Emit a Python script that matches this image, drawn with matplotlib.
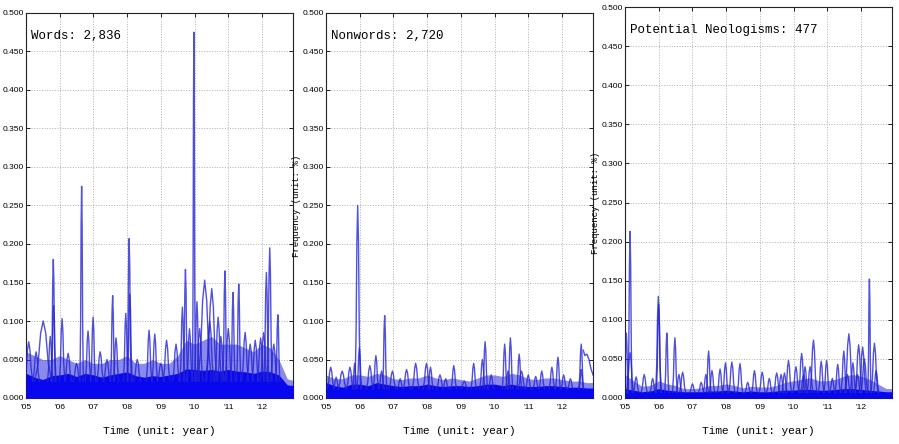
import numpy as np
import matplotlib
matplotlib.use("Agg")
import matplotlib.pyplot as plt
from matplotlib import font_manager

# ---------------- data ----------------
titles = ["Words: 2,836", "Nonwords: 2,720", "Potential Neologisms: 477"]
xtick_years = [2005, 2006, 2007, 2008, 2009, 2010, 2011, 2012]
xtick_labels = ["'05", "'06", "'07", "'08", "'09", "'10", "'11", "'12"]
ytick_values = [0.0, 0.05, 0.1, 0.15, 0.2, 0.25, 0.3, 0.35, 0.4, 0.45, 0.5]

# quarterly time grid for the dense bottom band of thousands of series
env_time = np.linspace(2005.0, 2013.0, 33)

words_band = [0.032, 0.027, 0.024, 0.029, 0.030, 0.032, 0.028, 0.032, 0.030, 0.027, 0.030,
              0.032, 0.034, 0.029, 0.027, 0.029, 0.028, 0.030, 0.032, 0.038, 0.037, 0.036,
              0.037, 0.035, 0.037, 0.035, 0.034, 0.032, 0.035, 0.034, 0.030, 0.017, 0.016]
words_mid = [0.060, 0.055, 0.050, 0.050, 0.055, 0.050, 0.045, 0.050, 0.045, 0.045, 0.050,
             0.050, 0.055, 0.045, 0.045, 0.050, 0.045, 0.045, 0.055, 0.075, 0.070, 0.075,
             0.080, 0.070, 0.070, 0.070, 0.065, 0.060, 0.070, 0.065, 0.050, 0.025, 0.022]

nonwords_band = [0.020, 0.016, 0.014, 0.018, 0.018, 0.016, 0.020, 0.018, 0.016, 0.015, 0.016,
                 0.016, 0.018, 0.016, 0.015, 0.016, 0.016, 0.015, 0.016, 0.018, 0.018, 0.016,
                 0.018, 0.016, 0.015, 0.015, 0.016, 0.016, 0.015, 0.014, 0.014, 0.013, 0.013]
nonwords_mid = [0.030, 0.025, 0.025, 0.030, 0.030, 0.028, 0.032, 0.030, 0.025, 0.024, 0.026,
                0.026, 0.030, 0.026, 0.024, 0.026, 0.024, 0.022, 0.026, 0.030, 0.030, 0.028,
                0.032, 0.030, 0.025, 0.024, 0.026, 0.026, 0.024, 0.022, 0.022, 0.020, 0.020]

neo_band = [0.012, 0.010, 0.008, 0.009, 0.012, 0.010, 0.009, 0.008, 0.008, 0.008, 0.009,
            0.009, 0.010, 0.009, 0.008, 0.009, 0.008, 0.008, 0.009, 0.010, 0.010, 0.011,
            0.011, 0.010, 0.010, 0.011, 0.012, 0.012, 0.011, 0.010, 0.009, 0.008, 0.008]
neo_mid = [0.030, 0.022, 0.015, 0.016, 0.022, 0.018, 0.016, 0.012, 0.012, 0.013, 0.016,
           0.016, 0.018, 0.016, 0.013, 0.015, 0.014, 0.014, 0.016, 0.020, 0.022, 0.024,
           0.026, 0.022, 0.022, 0.024, 0.028, 0.030, 0.028, 0.024, 0.018, 0.012, 0.012]

# individual peaks: time (year), peak frequency (%), half width (years)
words_peak_t = [2005.08, 2005.30, 2005.51, 2005.72, 2005.81, 2005.82, 2006.07, 2006.25, 2006.50,
                2006.65, 2006.84, 2006.99, 2007.20, 2007.40, 2007.57, 2007.67, 2007.96, 2008.06,
                2008.08, 2008.30, 2008.65, 2008.82, 2009.00, 2009.17, 2009.45, 2009.64, 2009.73,
                2009.85, 2009.98, 2010.07, 2010.15, 2010.30, 2010.45, 2010.51, 2010.70, 2010.78,
                2010.90, 2011.00, 2011.14, 2011.31, 2011.50, 2011.65, 2011.80, 2011.96, 2012.05,
                2012.13, 2012.23, 2012.35, 2012.47]
words_peak_h = [0.073, 0.060, 0.100, 0.080, 0.180, 0.120, 0.103, 0.058, 0.045,
                0.275, 0.087, 0.105, 0.060, 0.050, 0.133, 0.078, 0.110, 0.207,
                0.135, 0.050, 0.088, 0.083, 0.045, 0.075, 0.070, 0.118, 0.167,
                0.090, 0.475, 0.125, 0.090, 0.153, 0.100, 0.142, 0.105, 0.080,
                0.165, 0.090, 0.137, 0.148, 0.085, 0.070, 0.075, 0.078, 0.085,
                0.163, 0.195, 0.070, 0.108]
words_peak_w = [0.12, 0.10, 0.25, 0.08, 0.06, 0.07, 0.08, 0.10, 0.10,
                0.05, 0.08, 0.07, 0.10, 0.10, 0.06, 0.08, 0.07, 0.06,
                0.07, 0.10, 0.08, 0.08, 0.10, 0.10, 0.10, 0.07, 0.06,
                0.08, 0.04, 0.07, 0.10, 0.20, 0.12, 0.16, 0.10, 0.10,
                0.06, 0.10, 0.06, 0.06, 0.10, 0.10, 0.10, 0.10, 0.10,
                0.07, 0.07, 0.10, 0.06]

nonwords_peak_t = [2005.14, 2005.30, 2005.48, 2005.71, 2005.85, 2005.94, 2005.99, 2006.30, 2006.48,
                   2006.65, 2006.74, 2006.97, 2007.20, 2007.39, 2007.66, 2007.98, 2008.10, 2008.38,
                   2008.55, 2008.79, 2009.10, 2009.38, 2009.64, 2009.72, 2009.90, 2010.30, 2010.40,
                   2010.47, 2010.73, 2010.80, 2011.00, 2011.22, 2011.40, 2011.70, 2011.88, 2012.05,
                   2012.25, 2012.57, 2012.57]
nonwords_peak_h = [0.040, 0.027, 0.035, 0.040, 0.045, 0.250, 0.065, 0.042, 0.055,
                   0.035, 0.107, 0.035, 0.025, 0.037, 0.045, 0.045, 0.040, 0.030,
                   0.025, 0.042, 0.022, 0.045, 0.050, 0.073, 0.030, 0.070, 0.035,
                   0.078, 0.057, 0.035, 0.030, 0.028, 0.035, 0.040, 0.053, 0.030,
                   0.025, 0.037, 0.070]
nonwords_peak_w = [0.10, 0.08, 0.12, 0.10, 0.06, 0.08, 0.07, 0.10, 0.08,
                   0.08, 0.06, 0.10, 0.08, 0.10, 0.10, 0.10, 0.08, 0.10,
                   0.08, 0.08, 0.10, 0.08, 0.08, 0.07, 0.08, 0.07, 0.08,
                   0.07, 0.07, 0.10, 0.08, 0.08, 0.08, 0.08, 0.07, 0.08,
                   0.08, 0.06, 0.07]
# the slowly decaying series at the right end of the nonwords panel
nonwords_tail_t = [2012.63, 2012.68, 2012.74, 2012.80, 2012.86, 2012.92]
nonwords_tail_v = [0.062, 0.055, 0.057, 0.050, 0.038, 0.030]

neo_peak_t = [2005.04, 2005.15, 2005.15, 2005.33, 2005.57, 2005.82, 2005.99, 2006.00, 2006.24,
              2006.48, 2006.60, 2006.71, 2007.00, 2007.26, 2007.40, 2007.48, 2007.58, 2007.82,
              2007.98, 2008.17, 2008.41, 2008.64, 2008.84, 2009.07, 2009.28, 2009.50, 2009.63,
              2009.73, 2009.85, 2010.07, 2010.24, 2010.30, 2010.34, 2010.49, 2010.59, 2010.82,
              2010.98, 2011.15, 2011.31, 2011.49, 2011.60, 2011.64, 2011.76, 2011.90, 2011.93,
              2012.05, 2012.10, 2012.25, 2012.40, 2012.45]
neo_peak_h = [0.083, 0.213, 0.058, 0.027, 0.030, 0.025, 0.130, 0.120, 0.083,
              0.077, 0.030, 0.033, 0.018, 0.020, 0.030, 0.060, 0.035, 0.037,
              0.045, 0.046, 0.044, 0.020, 0.035, 0.033, 0.025, 0.032, 0.030,
              0.032, 0.048, 0.040, 0.057, 0.030, 0.040, 0.040, 0.074, 0.047,
              0.048, 0.025, 0.043, 0.060, 0.030, 0.082, 0.045, 0.030, 0.068,
              0.065, 0.050, 0.152, 0.070, 0.035]
neo_peak_w = [0.06, 0.06, 0.10, 0.08, 0.09, 0.08, 0.08, 0.07, 0.06,
              0.07, 0.08, 0.09, 0.08, 0.08, 0.08, 0.07, 0.08, 0.08,
              0.08, 0.09, 0.08, 0.08, 0.08, 0.09, 0.08, 0.09, 0.08,
              0.08, 0.09, 0.09, 0.09, 0.10, 0.08, 0.09, 0.10, 0.08,
              0.08, 0.08, 0.08, 0.08, 0.08, 0.12, 0.08, 0.08, 0.10,
              0.10, 0.10, 0.045, 0.10, 0.08]

panels = [
    dict(title=titles[0], band=words_band, mid=words_mid, pt=words_peak_t, ph=words_peak_h,
         pw=words_peak_w, base=0.022, tail=None),
    dict(title=titles[1], band=nonwords_band, mid=nonwords_mid, pt=nonwords_peak_t,
         ph=nonwords_peak_h, pw=nonwords_peak_w, base=0.012,
         tail=(nonwords_tail_t, nonwords_tail_v)),
    dict(title=titles[2], band=neo_band, mid=neo_mid, pt=neo_peak_t, ph=neo_peak_h,
         pw=neo_peak_w, base=0.007, tail=None),
]

# ---------------- styling ----------------
fonts = font_manager.fontManager.ttflist
avail = {f.name for f in fonts}
if "Liberation Sans Narrow" in avail:
    tick_fp = dict(family="Liberation Sans Narrow", size=7)
else:
    tick_fp = dict(family="Liberation Sans", size=6)
mono_font = "Liberation Mono" if "Liberation Mono" in avail else "DejaVu Sans Mono"

W, H = 899, 444
fig = plt.figure(figsize=(W / 100, H / 100), dpi=100)

# axes boxes in pixels: left, top, right, bottom
boxes = [(26, 13, 293, 398), (326, 13, 593, 398), (625, 7, 892, 398)]

line_color = "#2424d4"
band_color = "#0808f0"

shape_off = np.array([-1.0, -0.6, -0.3, 0.0, 0.3, 0.6, 1.0])
shape_frac = np.array([0.0, 0.3, 0.8, 1.0, 0.8, 0.3, 0.0])

for p, (l, t, r, b) in zip(panels, boxes):
    ax = fig.add_axes([l / W, 1 - b / H, (r - l) / W, (b - t) / H])
    ax.set_xlim(2005.0, 2012.92)
    ax.set_ylim(0, 0.5)

    # medium-density layer of series and the solid dense band
    ax.fill_between(env_time, 0, p["mid"], color="#2a2ae0", alpha=0.55, lw=0, zorder=2)
    ax.fill_between(env_time, 0, p["band"], color=band_color, lw=0, zorder=3)

    for tt, hh, ww in zip(p["pt"], p["ph"], p["pw"]):
        xs = tt + shape_off * ww
        ys = p["base"] + shape_frac * (hh - p["base"])
        ax.plot(xs, ys, color=line_color, lw=1.0, alpha=0.8, zorder=4)
    if p["tail"] is not None:
        ax.plot(p["tail"][0], p["tail"][1], color=line_color, lw=1.0, alpha=0.8, zorder=4)

    ax.set_xticks(xtick_years)
    ax.set_xticklabels(xtick_labels)
    ax.set_yticks(ytick_values)
    ax.set_yticklabels([f"{v:.3f}" for v in ytick_values])
    ax.tick_params(direction="in", length=3, width=0.6, top=True, right=True, pad=1.5)
    ax.tick_params(axis="x", pad=4)
    for lab in ax.get_xticklabels() + ax.get_yticklabels():
        lab.set_fontproperties(font_manager.FontProperties(**tick_fp))
    ax.grid(True, linestyle=":", color="#b0b0b0", lw=0.7, zorder=1)
    ax.set_axisbelow(True)
    for s in ax.spines.values():
        s.set_linewidth(0.8)
        s.set_color("#222222")

    ax.text(0.019, 0.94, p["title"], transform=ax.transAxes, ha="left", va="center",
            fontsize=9, family=mono_font, zorder=6)

    # x label centred under axes
    fig.text((l + r) / 2 / W, 1 - 431 / H, "Time (unit: year)", ha="center", va="center",
             fontsize=8, family=mono_font)
    # y label just left of the tick labels (the first panel's is cut by the edge,
    # as in the reference)
    fig.text((l - 29.5) / W, 1 - ((t + b) / 2) / H, "Frequency (unit: %)", ha="center",
             va="center", rotation=90, fontsize=6.5, family=mono_font)

fig.savefig("out.png", dpi=100)
